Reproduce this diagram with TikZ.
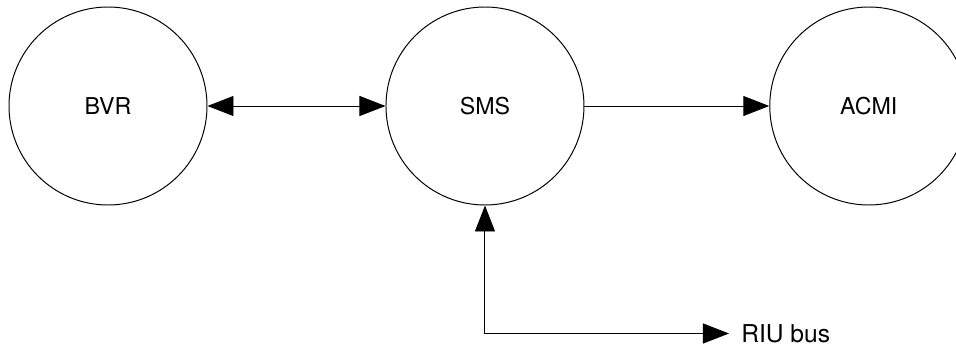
\documentclass[tikz,border=0pt]{standalone}
\usepackage{fontspec}
\setmainfont{TeX Gyre Heros}
\usetikzlibrary{arrows.meta,positioning}

\begin{document}
\begin{tikzpicture}[
  font=\fontsize{16.5}{19}\selectfont,
  proc/.style={circle, draw, line width=0.7pt, minimum size=4.95cm, inner sep=0pt},
  tip/.tip={Triangle[length=6.5mm, width=5mm]},
  arr/.style={-tip, line width=0.7pt},
  darr/.style={tip-tip, line width=0.7pt}
]
\useasboundingbox (0,0) rectangle (23.9,-8.75);
\node[proc] (bvr) at (2.7,-2.65) {BVR};
\node[proc, right=4.45cm of bvr] (sms) {SMS};
\node[proc, right=4.62cm of sms] (acmi) {ACMI};
\coordinate[below=3.2cm of sms.south] (corner);
\coordinate[right=6.1cm of corner] (bus);
\node[right=0pt of bus, inner xsep=0.3cm, font=\fontsize{17.5}{20}\selectfont] (riu) {RIU bus};
\draw[darr] (bvr) -- (sms);
\draw[arr] (sms) -- (acmi);
\draw[darr] (sms.south) |- (riu.west);
\end{tikzpicture}
\end{document}
